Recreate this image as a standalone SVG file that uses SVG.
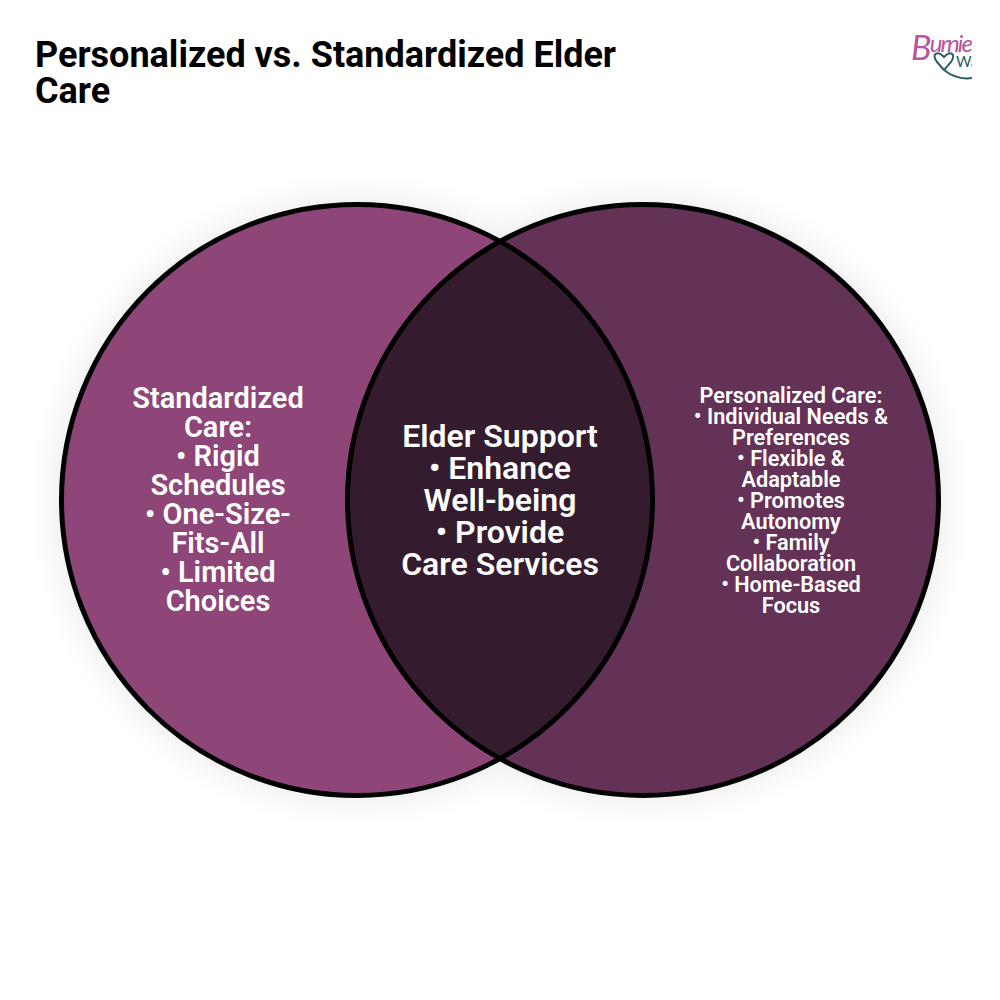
<svg xmlns="http://www.w3.org/2000/svg" width="1000" height="1000" viewBox="0 0 1000 1000">
<style>
.t{font-family:Roboto,"Liberation Sans",sans-serif;text-anchor:middle;fill:#fff;font-weight:600}
.title{font-family:Roboto,"Liberation Sans",sans-serif;font-weight:700;font-size:36px;fill:#000}
.ring{fill:none;stroke:#000;stroke-width:5}
.lp{font-family:Lato,sans-serif;fill:#b9559b;font-style:italic}
</style>
<defs>
<filter id="sh" x="-20%" y="-20%" width="140%" height="140%"><feGaussianBlur stdDeviation="18"/></filter>
<clipPath id="cl"><circle cx="357" cy="500" r="295.500"/></clipPath>
<clipPath id="logo"><rect x="900" y="20" width="72" height="70"/></clipPath>
</defs>
<rect width="1000" height="1000" fill="#fff"/>
<g id="shadow" opacity="0.1" filter="url(#sh)"><circle cx="357" cy="500" r="297"/><circle cx="643" cy="500" r="297"/></g>
<g id="title"><text class="title" x="35" y="66.500">Personalized vs. Standardized Elder</text><text class="title" x="35" y="102.500">Care</text></g>
<g id="logo-mark" clip-path="url(#logo)">
<text class="lp" x="911" y="52" font-size="24" textLength="62"><tspan font-size="34" dy="8">B</tspan><tspan dy="-8">urnie</tspan></text>
<path d="M944 70L937 62C931 54 937 50 944 57C951 50 956 54 951 62L944 70C949 74 958 80 972 78" fill="none" stroke="#2f5d66" stroke-width="2"/>
<text x="956" y="67" font-family="Lato,sans-serif" font-size="15" fill="#2f5d66">Wa</text>
</g>
<g id="left-circle"><circle cx="357" cy="500" r="295.500" fill="#8e4679"/>
<text class="t" font-size="29" x="218"><tspan x="218" y="407.500">Standardized</tspan><tspan x="218" y="436.500">Care:</tspan><tspan x="218" y="466">• Rigid</tspan><tspan x="218" y="494.500">Schedules</tspan><tspan x="218" y="524">• One-Size-</tspan><tspan x="218" y="552.500">Fits-All</tspan><tspan x="218" y="582">• Limited</tspan><tspan x="218" y="611">Choices</tspan></text></g>
<g id="right-circle"><circle cx="643" cy="500" r="295.500" fill="#643257"/>
<text class="t" font-size="21.700" x="791"><tspan x="791" y="403">Personalized Care:</tspan><tspan x="791" y="424">• Individual Needs &amp;</tspan><tspan x="791" y="445">Preferences</tspan><tspan x="791" y="466">• Flexible &amp;</tspan><tspan x="791" y="487">Adaptable</tspan><tspan x="791" y="508">• Promotes</tspan><tspan x="791" y="529">Autonomy</tspan><tspan x="791" y="550">• Family</tspan><tspan x="791" y="571">Collaboration</tspan><tspan x="791" y="592">• Home-Based</tspan><tspan x="791" y="613">Focus</tspan></text></g>
<g id="overlap"><circle cx="643" cy="500" r="295.500" fill="#341c2e" clip-path="url(#cl)"/>
<circle class="ring" cx="357" cy="500" r="295.500"/><circle class="ring" cx="643" cy="500" r="295.500"/>
<text class="t" font-size="32" x="500"><tspan x="500" y="447">Elder Support</tspan><tspan x="500" y="479">• Enhance</tspan><tspan x="500" y="511">Well-being</tspan><tspan x="500" y="543">• Provide</tspan><tspan x="500" y="575">Care Services</tspan></text></g>
</svg>
